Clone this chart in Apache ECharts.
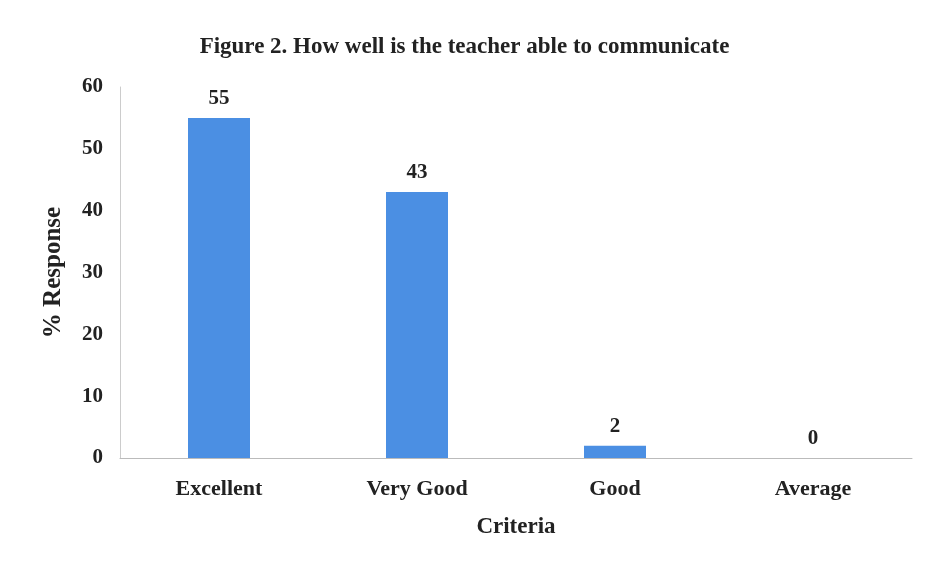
<!DOCTYPE html>
<html>
<head>
<meta charset="utf-8">
<script src="https://cdn.jsdelivr.net/npm/echarts@6/dist/echarts.min.js"></script>
<style>
  html, body { margin: 0; padding: 0; background: #fff; }
  #main { width: 929px; height: 568px; }
</style>
</head>
<body>
<div id="main"></div>
<script>
// data
var categories = ['Excellent', 'Very Good', 'Good', 'Average'];
var responses = [55, 43, 2, 0];
var yTicks = [0, 10, 20, 30, 40, 50, 60];

var serif = '"Liberation Serif", "Times New Roman", serif';
var chart = echarts.init(document.getElementById('main'));

var option = {
  backgroundColor: '#fff',
  title: {
    text: 'Figure 2. How well is the teacher able to communicate',
    left: 'center',
    top: 31,
    textStyle: { fontFamily: serif, fontWeight: 'bold', fontSize: 23, color: '#222' }
  },
  grid: { left: 120, right: 17, top: 87, bottom: 110 },
  xAxis: {
    type: 'category',
    data: categories,
    name: 'Criteria',
    nameLocation: 'middle',
    nameGap: 58,
    nameTextStyle: { fontFamily: serif, fontWeight: 'bold', fontSize: 23, color: '#222' },
    axisLine: { lineStyle: { color: '#bbb', width: 1 } },
    axisTick: { show: false },
    axisLabel: { fontFamily: serif, fontWeight: 'bold', fontSize: 22, color: '#222', margin: 20 }
  },
  yAxis: {
    type: 'value',
    min: yTicks[0],
    max: yTicks[yTicks.length - 1],
    interval: 10,
    name: '% Response',
    nameLocation: 'middle',
    nameGap: 54,
    nameTextStyle: { fontFamily: serif, fontWeight: 'bold', fontSize: 25, color: '#222' },
    axisLine: { show: true, lineStyle: { color: '#ccc', width: 1 } },
    axisTick: { show: false },
    splitLine: { show: false },
    axisLabel: { fontFamily: serif, fontWeight: 'bold', fontSize: 21, color: '#222', margin: 17 }
  },
  series: [{
    type: 'bar',
    data: responses,
    barWidth: 62,
    itemStyle: { color: '#4b8fe3' },
    label: {
      show: true,
      position: 'top',
      distance: 9,
      fontFamily: serif,
      fontWeight: 'bold',
      fontSize: 21,
      color: '#222'
    }
  }]
};

chart.setOption(option);
</script>
</body>
</html>
